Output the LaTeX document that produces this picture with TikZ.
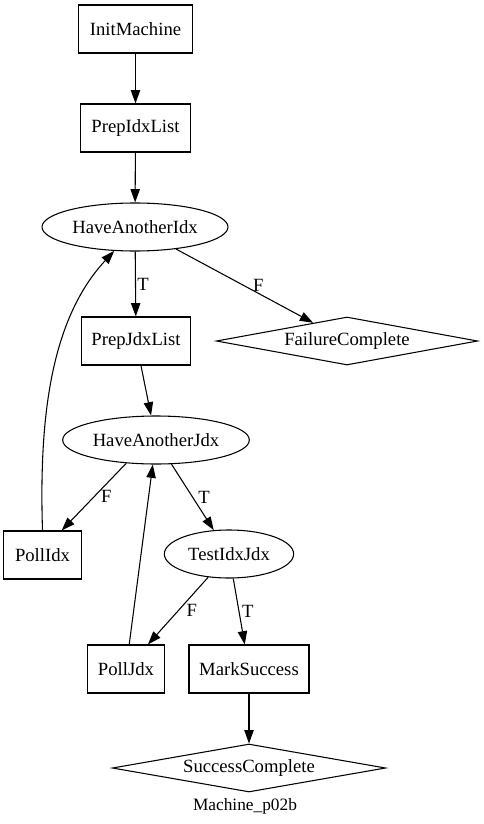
\documentclass[tikz,border=0pt]{standalone}
\usepackage{fontspec}
\setmainfont{Liberation Serif}
\usetikzlibrary{shapes.geometric,arrows.meta}
\tikzset{
  state/.style={draw, rectangle, minimum height=36pt, inner sep=0pt},
  test/.style={draw, ellipse, minimum height=36pt, inner sep=0pt},
  final/.style={draw, diamond, aspect=5, minimum height=36pt, inner sep=0pt},
  trans/.style={-{Triangle[length=10pt,width=7pt]}},
  lbl/.style={inner sep=1pt}
}
\begin{document}
\begin{tikzpicture}[x=0.75pt, y=-0.75pt, line width=0.8pt, font=\fontsize{14}{16}\selectfont]
        \useasboundingbox (0,0) rectangle (483,824);
        \node[state, minimum width=85pt] (init) at (135.5,29) {InitMachine};
        \node[state, minimum width=82pt] (prepidx) at (135.5,128) {PrepIdxList};
        \node[test, minimum width=139.5pt] (haveidx) at (135,227) {HaveAnotherIdx};
        \node[state, minimum width=82pt] (prepjdx) at (136,341) {PrepJdxList};
        \node[final, minimum width=196pt] (failure) at (347,341) {FailureComplete};
        \node[test, minimum width=140pt] (havejdx) at (156,440) {HaveAnotherJdx};
        \node[state, minimum width=58pt] (pollidx) at (42.5,555) {PollIdx};
        \node[test, minimum width=97pt] (testij) at (229,554) {TestIdxJdx};
        \node[state, minimum width=58pt] (polljdx) at (126,669) {PollJdx};
        \node[state, minimum width=90pt] (mark) at (249,669) {MarkSuccess};
        \node[final, minimum width=205pt] (success) at (249,768) {SuccessComplete};
        \node (caption) at (245,806) {\fontsize{13}{15}\selectfont Machine\_p02b};

        \draw[trans] (init) -- (prepidx);
        \draw[trans] (prepidx) -- (haveidx);
        \draw[trans] (haveidx) -- node[lbl, right] {T} (prepjdx);
        \draw[trans] (haveidx) -- node[lbl, pos=.6, above] {F} (failure);
        \draw[trans] (prepjdx) -- (havejdx);
        \draw[trans] (havejdx.218) -- node[lbl, right=4pt] {F} (pollidx.52);
        \draw[trans] (havejdx) -- node[lbl, right=3pt] {T} (testij);
        \draw[trans] (pollidx.north) .. controls (39,420) and (50,320) .. (haveidx.229);
        \draw[trans] (polljdx) -- (havejdx);
        \draw[trans] (testij) -- node[lbl, right=5pt] {F} (polljdx);
        \draw[trans] (testij) -- node[lbl, right=1pt] {T} (mark);
        \draw[trans] (mark) -- (success);
\end{tikzpicture}
\end{document}
